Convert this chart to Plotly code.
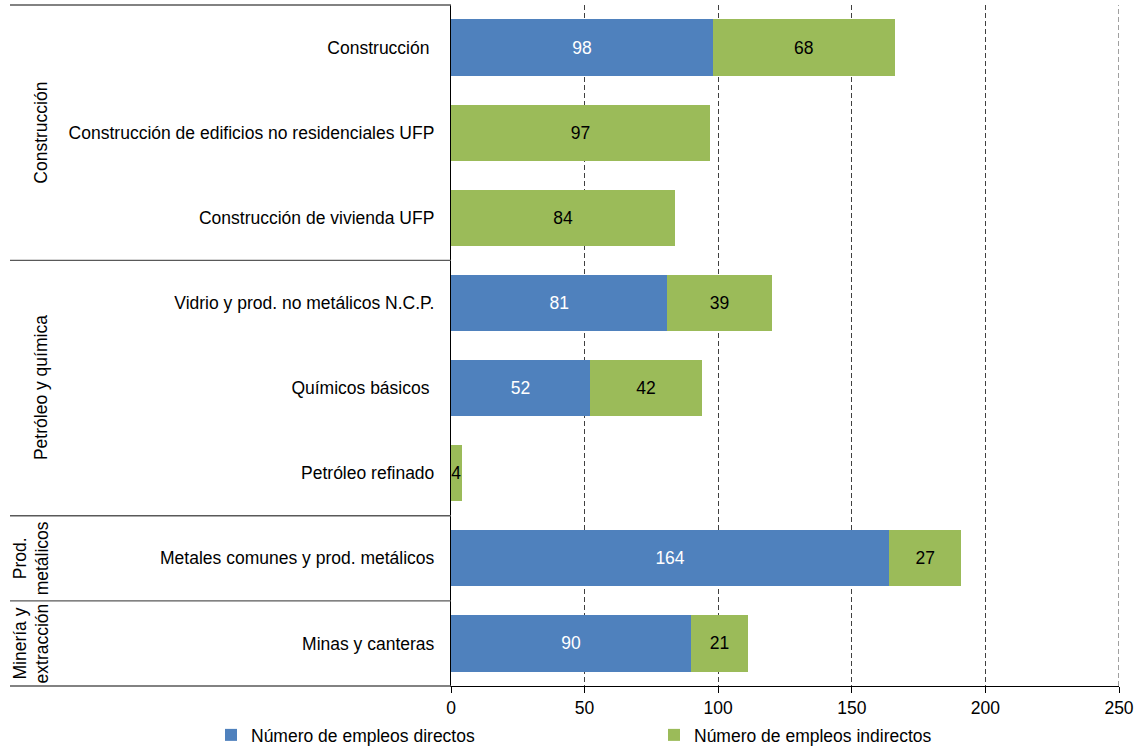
import plotly.graph_objects as go

# Sector groups and the industries inside them (top to bottom)
groups = ["Construcción", "Petróleo y química", "Prod.<br>metálicos", "Minería y<br>extracción"]
group_sizes = [3, 3, 1, 1]
industries = [
    "Construcción\u00a0",
    "Construcción de edificios no residenciales UFP",
    "Construcción de vivienda UFP",
    "Vidrio y prod. no metálicos N.C.P.",
    "Químicos básicos\u00a0",
    "Petróleo refinado",
    "Metales comunes y prod. metálicos",
    "Minas y canteras",
]
directos = [98, 0, 0, 81, 52, 0, 164, 90]
indirectos = [68, 97, 84, 39, 42, 4, 27, 21]
x_ticks = [0, 50, 100, 150, 200, 250]

BLUE = "#4F81BD"
GREEN = "#9BBB59"
GRID = "#404040"
FONT = "Liberation Sans, Arial, sans-serif"
FS = 17.5

W, H = 1137, 746
L, R, T, B = 451, 18, 5, 60
plot_w = W - L - R
plot_h = H - T - B
n = len(industries)
pos = list(range(n))


def px_to_paper_x(px):
    return (px - L) / plot_w


def px_to_paper_y(py):
    return (H - B - py) / plot_h


def label(v):
    return "" if v == 0 else str(v)


fig = go.Figure()
fig.add_trace(go.Bar(
    y=pos, x=directos, orientation="h", name="Número de empleos directos",
    marker=dict(color=BLUE, line=dict(width=0)), width=0.66,
    text=[label(v) for v in directos], textposition="inside",
    insidetextanchor="middle", textangle=0, constraintext="none",
    textfont=dict(color="white", size=FS, family=FONT),
))
fig.add_trace(go.Bar(
    y=pos, x=indirectos, orientation="h", name="Número de empleos indirectos",
    marker=dict(color=GREEN, line=dict(width=0)), width=0.66,
    text=[label(v) for v in indirectos], textposition="inside",
    insidetextanchor="middle", textangle=0, constraintext="none",
    textfont=dict(color="black", size=FS, family=FONT),
))

# Table-style separators and group labels on the left
x_left = px_to_paper_x(10)
shapes = [dict(type="line", xref="paper", yref="paper", x0=x_left, x1=0,
               y0=1, y1=1, line=dict(color="#595959", width=1.3))]
# dashed gridline at the far end of the value axis
shapes.append(dict(type="line", xref="x", yref="paper", x0=x_ticks[-1], x1=x_ticks[-1],
                   y0=0, y1=1, line=dict(color=GRID, width=1, dash="5px,3px")))
annotations = []
start = 0
for g, size in zip(groups, group_sizes):
    end = start + size
    y_bottom = 1 - end / n
    y_mid = 1 - (start + end) / 2 / n
    shapes.append(dict(type="line", xref="paper", yref="paper", x0=x_left, x1=0,
                       y0=y_bottom, y1=y_bottom,
                       line=dict(color="#595959", width=1.3)))
    two_lines = "<br>" in g
    annotations.append(dict(
        text=g, xref="paper", yref="paper",
        x=px_to_paper_x(31 if two_lines else 41), y=y_mid,
        textangle=-90, showarrow=False, xanchor="center", yanchor="middle",
        font=dict(size=FS, color="black", family=FONT), align="center",
    ))
    start = end

fig.update_layout(
    width=W, height=H,
    margin=dict(l=L, r=R, t=T, b=B, autoexpand=False),
    barmode="stack", bargap=0.34,
    plot_bgcolor="white", paper_bgcolor="white",
    font=dict(family=FONT, size=FS, color="black"),
    shapes=shapes, annotations=annotations,
    xaxis=dict(
        range=[0, 250], tickvals=x_ticks, ticktext=[str(v) for v in x_ticks],
        showgrid=True, gridcolor=GRID, gridwidth=1, griddash="5px,3px",
        showline=True, linecolor="black", linewidth=1.3,
        ticks="outside", ticklen=6, tickcolor="black", tickwidth=1,
        tickfont=dict(size=FS, family=FONT, color="black"),
        zeroline=False, fixedrange=True,
    ),
    yaxis=dict(
        range=[n - 0.5, -0.5], tickvals=pos, ticktext=industries,
        showgrid=False, zeroline=False, showline=True, linecolor="black",
        linewidth=1.3, ticks="", ticklabelstandoff=12,
        tickfont=dict(size=FS, family=FONT, color="black"), fixedrange=True,
    ),
    legend=dict(
        orientation="h", x=px_to_paper_x(211), y=px_to_paper_y(735),
        xanchor="left", yanchor="middle", traceorder="normal",
        entrywidth=398, entrywidthmode="pixels",
        font=dict(size=FS, family=FONT, color="black"),
        bgcolor="rgba(0,0,0,0)",
    ),
)

fig.write_html("out.html")
